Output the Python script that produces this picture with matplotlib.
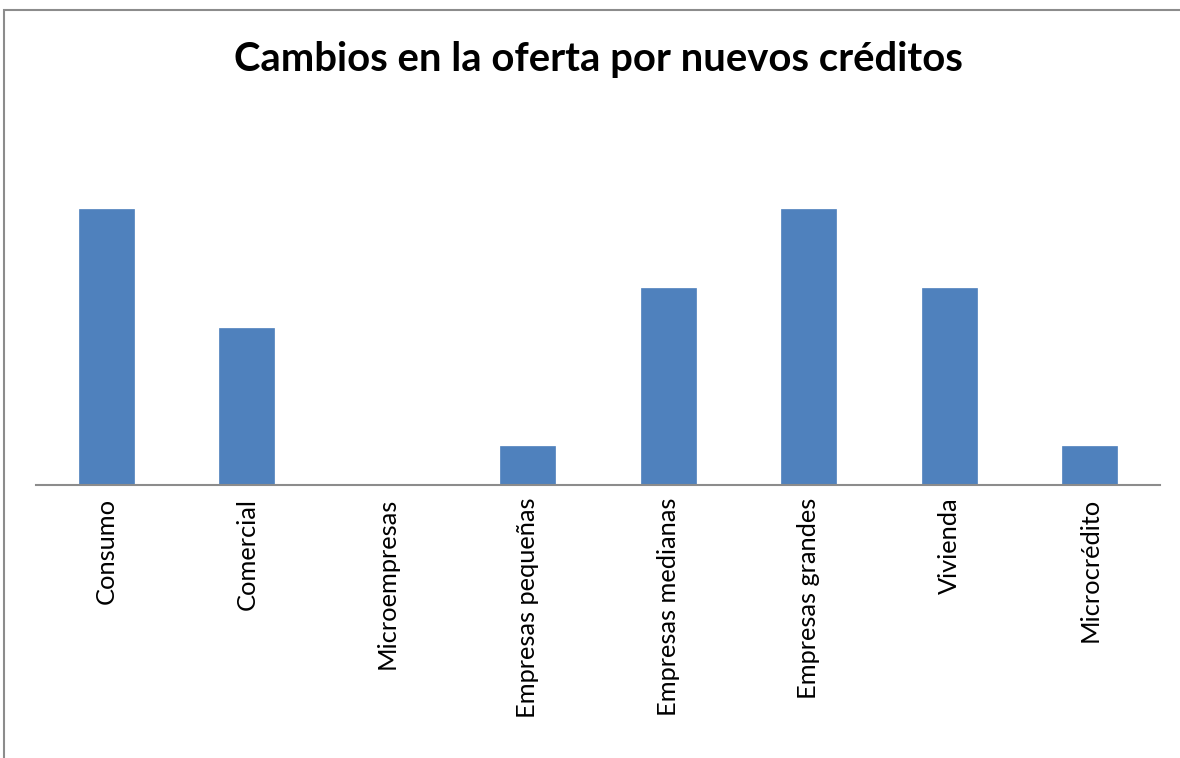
import matplotlib
matplotlib.use("Agg")
import matplotlib.pyplot as plt
from matplotlib.patches import Rectangle

categories = ["Consumo", "Comercial", "Microempresas", "Empresas pequeñas",
              "Empresas medianas", "Empresas grandes", "Vivienda", "Microcrédito"]
values = [7, 4, 0, 1, 5, 7, 5, 1]
title = "Cambios en la oferta por nuevos créditos"

W, H = 1180, 758
fig = plt.figure(figsize=(W / 100, H / 100), dpi=100)
fig.patch.set_facecolor("white")

# outer chart border (top and left visible)
fig.patches.append(Rectangle((4 / W, -0.2), 2.0, 1.2 - 10 / H,
                             transform=fig.transFigure, fill=False,
                             edgecolor="#8c8c8c", linewidth=1.5))

ax = fig.add_axes([36 / W, 1 - 485 / H, (1160 - 36) / W, (485 - 170) / H])
x = range(len(categories))
ax.bar(x, values, width=0.39, color="#4f81bd", edgecolor="#4f81bd", linewidth=0.5, zorder=2)
ax.set_xlim(-0.5, len(categories) - 0.5)
ax.set_ylim(0, 8)
ax.set_xticks(list(x))
ax.set_xticklabels(categories, rotation=90, fontsize=18.3, family=["Lato", "DejaVu Sans"])
ax.tick_params(axis="x", length=0, pad=9)
ax.set_yticks([])
for s in ["top", "right", "left"]:
    ax.spines[s].set_visible(False)
ax.spines["bottom"].set_color("#8c8c8c")
ax.spines["bottom"].set_linewidth(1.5)
ax.patch.set_alpha(0)

fig.text(598 / W, 1 - 59 / H, title, ha="center", va="center", fontsize=28.8,
         fontweight="bold", family=["Lato", "DejaVu Sans"])

fig.savefig("out.png", dpi=100)
